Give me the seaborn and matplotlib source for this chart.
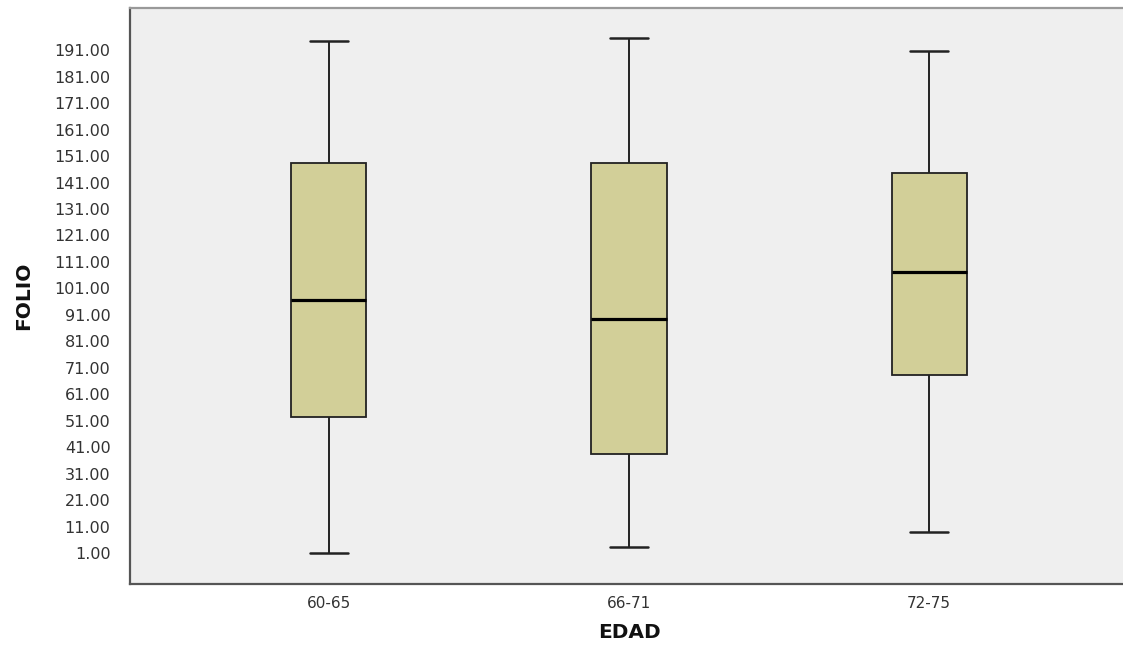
import numpy as np
import pandas as pd
import matplotlib
matplotlib.use("Agg")
import matplotlib.pyplot as plt
import seaborn as sns

# five-number summaries (min, Q1, median, Q3, max)
edad = ["60-65", "66-71", "72-75"]
folio_60_65 = [1.0, 52.5, 96.5, 148.5, 194.3]
folio_66_71 = [3.2, 38.4, 89.4, 148.5, 195.6]
folio_72_75 = [8.9, 68.4, 107.4, 144.5, 190.5]

yticks = np.arange(1, 192, 10)

df = pd.DataFrame({
    "EDAD": np.repeat(edad, 5),
    "FOLIO": folio_60_65 + folio_66_71 + folio_72_75,
})

sns.set_style("white")
plt.rcParams["font.family"] = ["DejaVu Sans"]

fig = plt.figure(figsize=(11.23, 6.45), dpi=100)
ax = fig.add_axes([130 / 1123, 61 / 645, 998 / 1123, 576 / 645])
ax.set_facecolor("#efefef")

sns.boxplot(data=df, x="EDAD", y="FOLIO", order=edad, whis=(0, 100),
            width=0.25, color="#d2cf98", saturation=1, linewidth=1.3,
            linecolor="#222222",
            medianprops=dict(color="black", linewidth=2.3),
            whiskerprops=dict(color="#222222", linewidth=1.4),
            capprops=dict(color="#222222", linewidth=1.8),
            ax=ax)

ax.set_xlim(-0.663, 2.663)
ax.set_ylim(-10.6, 206.9)
ax.set_yticks(yticks)
ax.set_yticklabels([f"{v:.2f}" for v in yticks])

ax.tick_params(axis="y", direction="out", length=11, width=1.6,
               color="#444444", labelsize=11.5, labelcolor="#333333", pad=3)
ax.tick_params(axis="x", direction="out", length=5, width=1.4,
               color="#444444", labelsize=11, labelcolor="#333333", pad=4)

for side in ["left", "bottom"]:
    ax.spines[side].set_color("#555555")
    ax.spines[side].set_linewidth(1.6)
ax.spines["top"].set_color("#999999")
ax.spines["top"].set_linewidth(1.6)
ax.spines["right"].set_visible(False)

ax.set_xlabel("EDAD", fontsize=14.5, fontweight="bold", color="#111111",
              va="center")
ax.set_ylabel("FOLIO", fontsize=14.5, fontweight="bold", color="#111111",
              va="center")
ax.xaxis.set_label_coords(0.5, -0.085)
ax.yaxis.set_label_coords(-0.107, 0.5)

fig.savefig("out.png", dpi=100, facecolor="white")
